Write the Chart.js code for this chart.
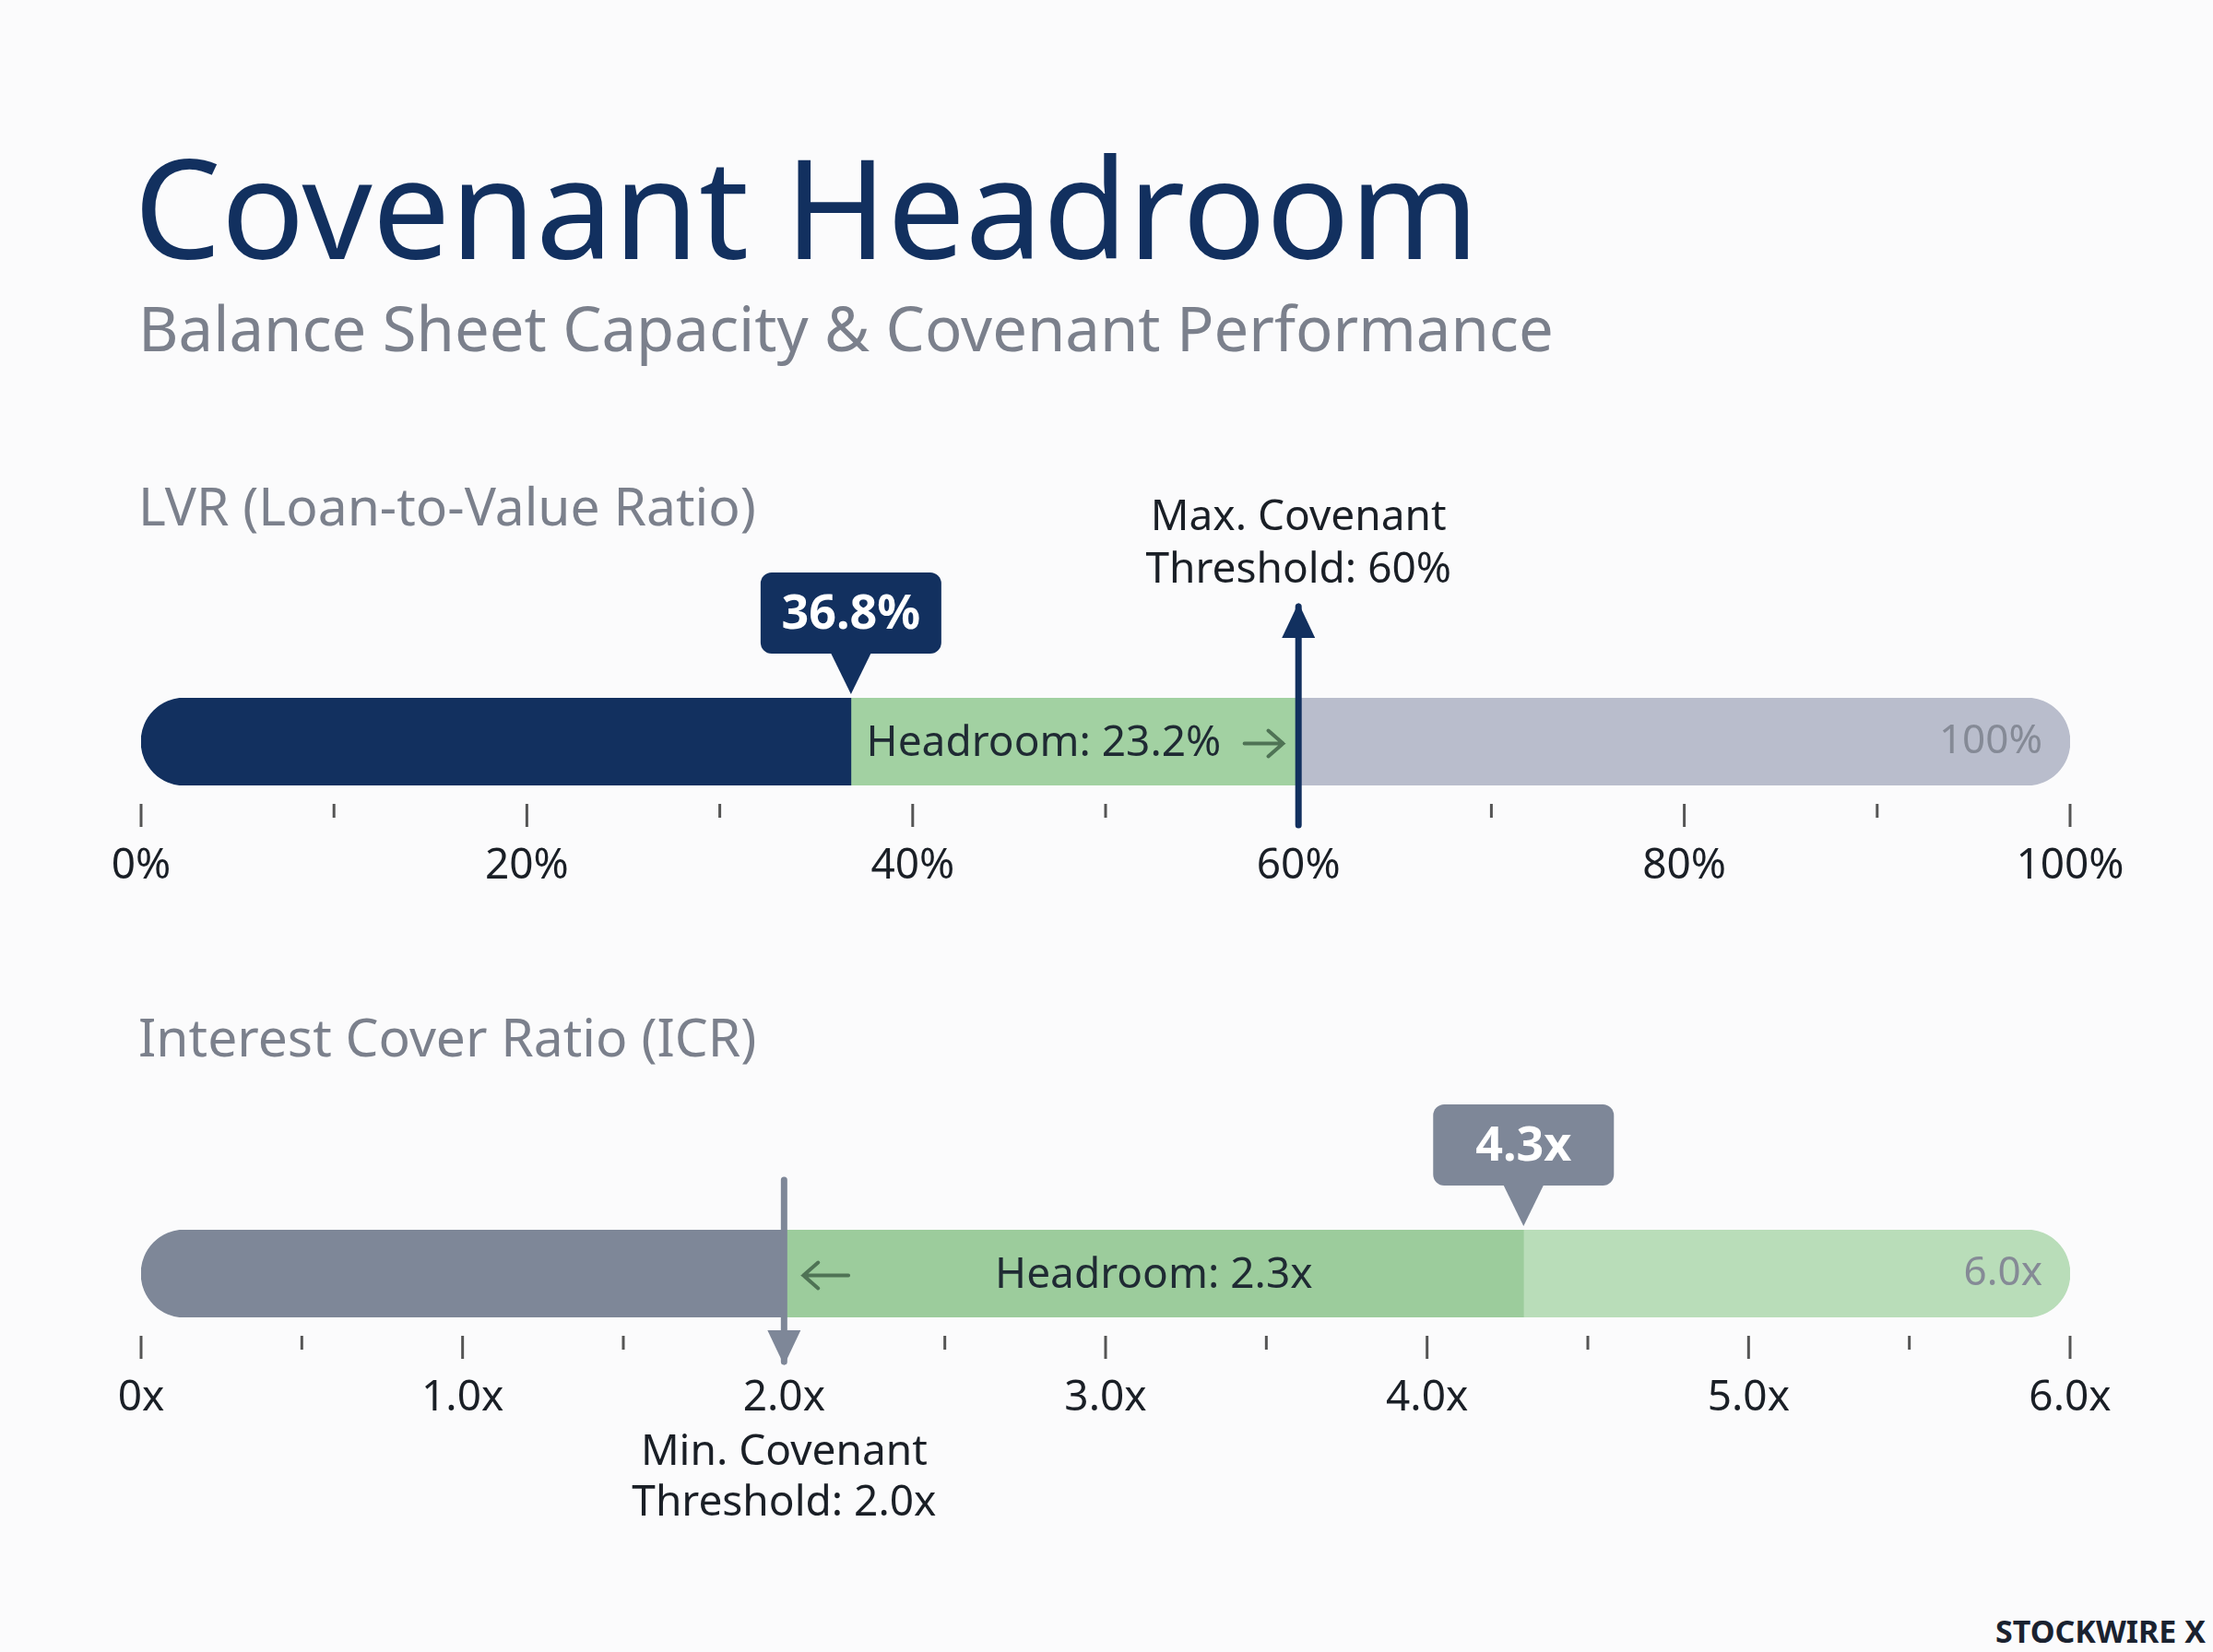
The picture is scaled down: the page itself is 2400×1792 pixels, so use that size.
<!DOCTYPE html>
<html>
<head>
<meta charset="utf-8">
<script src="https://cdn.jsdelivr.net/npm/chart.js@4"></script>
<style>
  body { margin: 0; width: 2400px; height: 1792px; background: #fbfbfc; font-family: "Noto Sans", sans-serif; position: relative; overflow: hidden; }
  .t { position: absolute; white-space: nowrap; line-height: 1; }
  .box { position: absolute; left: 0; width: 2400px; height: 520px; }
</style>
</head>
<body>
<div class="t" style="left:145px;top:148px;font-size:150px;color:#12305f;">Covenant Headroom</div>
<div class="t" style="left:150px;top:322px;font-size:67px;color:#7b808c;">Balance Sheet Capacity &amp; Covenant Performance</div>
<div class="t" style="left:150px;top:520px;font-size:57px;color:#7b808c;">LVR (Loan-to-Value Ratio)</div>
<div class="t" style="left:150px;top:1096px;font-size:57px;color:#7b808c;">Interest Cover Ratio (ICR)</div>
<div class="t" style="right:8px;top:1752px;font-size:34px;font-weight:bold;color:#1a2230;">STOCKWIRE X</div>
<div class="box" style="top:520px;"><canvas id="lvrChart"></canvas></div>
<div class="box" style="top:1150px;"><canvas id="icrChart"></canvas></div>
<script>
document.addEventListener("DOMContentLoaded", function () {
    const navy = "#12305f", slate = "#7e8798";
    const font = "Noto Sans";

    function arrow(c, x0, x1, y, color) {
        const d = x1 > x0 ? 1 : -1;
        c.strokeStyle = color; c.lineWidth = 4; c.lineCap = "round";
        c.beginPath(); c.moveTo(x0, y); c.lineTo(x1, y);
        c.moveTo(x1 - d * 16, y - 14); c.lineTo(x1, y); c.lineTo(x1 - d * 16, y + 14); c.stroke();
    }

    // callouts, threshold markers, tick marks
    const overlay = {
        id: "overlay",
        afterDatasetsDraw(chart, args, o) {
            const c = chart.ctx, x = chart.scales.x, a = chart.chartArea;
            c.save();
            c.strokeStyle = "#555"; c.lineWidth = 3;
            for (let v = 0; v <= o.max + 1e-9; v += o.step / 2) {
                const px = x.getPixelForValue(v);
                const major = Math.abs(v / o.step - Math.round(v / o.step)) < 1e-6;
                c.beginPath(); c.moveTo(px, a.bottom + 20); c.lineTo(px, a.bottom + (major ? 45 : 35)); c.stroke();
            }
            const mid = (a.top + a.bottom) / 2;
            c.font = "44px '" + font + "'"; c.fillStyle = "#858a96";
            c.textAlign = "right"; c.textBaseline = "middle";
            c.fillText(o.endLabel, a.right - 30, mid);
            // headroom text + arrow
            c.fillStyle = "#1f2a33"; c.textAlign = o.headAlign;
            c.font = "46px '" + font + "'";
            c.fillText(o.headText, x.getPixelForValue(o.headX), mid + 2);
            arrow(c, x.getPixelForValue(o.arrow[0]), x.getPixelForValue(o.arrow[1]), mid + 2, "#4f7355");
            // callout
            const cx = x.getPixelForValue(o.value);
            c.fillStyle = o.calloutColor;
            const bw = 196, bh = 88, by = a.top - 136;
            c.beginPath(); c.roundRect(cx - bw / 2, by, bw, bh, 12); c.fill();
            c.beginPath(); c.moveTo(cx - 22, by + bh - 1); c.lineTo(cx + 22, by + bh - 1); c.lineTo(cx, a.top - 4); c.closePath(); c.fill();
            c.fillStyle = "#fff"; c.textAlign = "center"; c.font = "bold 52px '" + font + "'";
            c.fillText(o.calloutText, cx, by + bh / 2 + 2);
            // threshold line with arrow
            const tx = x.getPixelForValue(o.threshold);
            c.strokeStyle = o.lineColor; c.fillStyle = o.lineColor; c.lineWidth = 7;
            c.beginPath(); c.moveTo(tx, o.lineFrom); c.lineTo(tx, o.lineTo); c.stroke();
            const dir = o.lineTo > o.lineFrom ? 1 : -1;
            c.beginPath(); c.moveTo(tx - 18, o.lineTo - dir * 34); c.lineTo(tx + 18, o.lineTo - dir * 34); c.lineTo(tx, o.lineTo + dir * 4); c.closePath(); c.fill();
            c.fillStyle = "#1a1f26"; c.font = "46px '" + font + "'"; c.textAlign = "center";
            c.fillText(o.thrText[0], tx, o.thrY[0]);
            c.fillText(o.thrText[1], tx, o.thrY[1]);
            c.restore();
        }
    };

    function build(id, cfg) {
        const ctx = document.getElementById(id).getContext("2d");
        const n = cfg.values.length;
        new Chart(ctx, {
            type: "bar",
            data: {
                labels: [""],
                datasets: cfg.values.map((v, i) => ({
                    data: [v], backgroundColor: cfg.colors[i],
                    borderRadius: i === 0 ? { topLeft: 48, bottomLeft: 48, topRight: 0, bottomRight: 0 }
                        : i === n - 1 ? { topLeft: 0, bottomLeft: 0, topRight: 48, bottomRight: 48 } : 0,
                    borderSkipped: false,
                    barPercentage: 1, categoryPercentage: 1
                }))
            },
            plugins: [overlay],
            options: {
                indexAxis: "y",
                responsive: true,
                maintainAspectRatio: false,
                animation: false,
                layout: { padding: { left: 153, right: 155, top: cfg.top } },
                plugins: { legend: { display: false }, tooltip: { enabled: false }, overlay: cfg.overlay },
                scales: {
                    y: { stacked: true, display: false },
                    x: {
                        stacked: true, min: 0, max: cfg.max,
                        grid: { display: false }, border: { display: false },
                        afterFit: s => { s.height = 520 - cfg.top - 95; },
                        ticks: {
                            stepSize: cfg.overlay.step, padding: 52, maxRotation: 0, autoSkip: false,
                            color: "#1a1f26", font: { family: font, size: 46 },
                            callback: cfg.fmt
                        }
                    }
                }
            }
        });
    }

    build("lvrChart", {
        values: [36.8, 23.2, 40.0],
        colors: [navy, "#a2d1a2", "#b9bdcc"],
        max: 100, top: 237,
        fmt: v => v + "%",
        overlay: {
            max: 100, step: 20, endLabel: "100%", value: 36.8, calloutText: "36.8%", calloutColor: navy,
            headX: 37.6, headAlign: "left", headText: "Headroom: 23.2%", arrow: [57.2, 59.2],
            threshold: 60, lineColor: navy,
            lineFrom: 375, lineTo: 138, thrText: ["Max. Covenant", "Threshold: 60%"], thrY: [42, 99]
        }
    });

    build("icrChart", {
        values: [2.0, 2.3, 1.7],
        colors: [slate, "#9ccc9c", "#b9ddb9"],
        max: 6, top: 184,
        fmt: v => v === 0 ? "0x" : v.toFixed(1) + "x",
        overlay: {
            max: 6, step: 1, endLabel: "6.0x", value: 4.3, calloutText: "4.3x", calloutColor: slate,
            headX: 3.15, headAlign: "center", headText: "Headroom: 2.3x", arrow: [2.2, 2.06],
            threshold: 2.0, lineColor: slate,
            lineFrom: 130, lineTo: 327, thrText: ["Min. Covenant", "Threshold: 2.0x"], thrY: [426, 481]
        }
    });
});
</script>
</body>
</html>
